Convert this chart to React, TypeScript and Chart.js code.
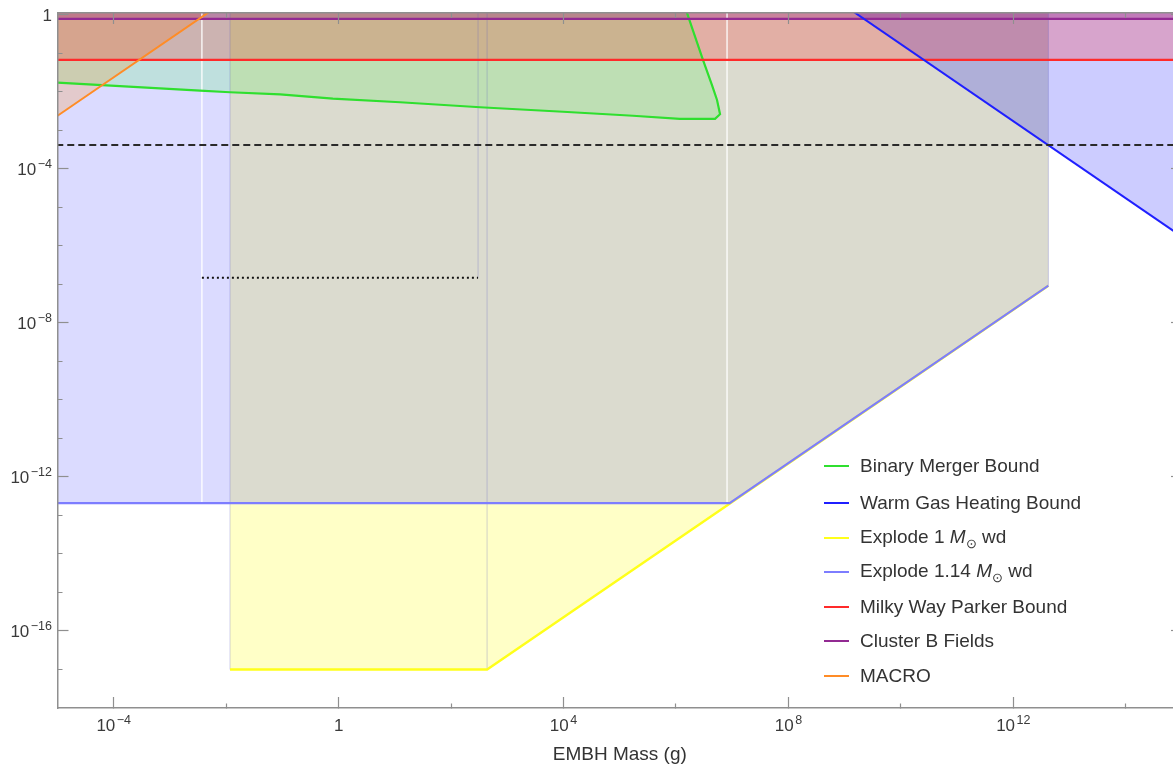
import React, { useEffect, useRef } from 'react';
import { Chart, registerables } from 'chart.js';

Chart.register(...registerables);

// ---------- axes ----------
const massMin = 1e-5;
const massMax = 1e15;
const fracMin = 1e-18;
const fracMax = 1.122;

const xMajorTicks = [1e-4, 1, 1e4, 1e8, 1e12];
const xLabelBase = ['10', '1', '10', '10', '10'];
const xLabelExp = ['−4', '', '4', '8', '12'];
const xMinorTicks = [1e-2, 1e2, 1e6, 1e10, 1e14];

const yMajorTicks = [1e-16, 1e-12, 1e-8, 1e-4, 1];
const yLabelBase = ['10', '10', '10', '10', '1'];
const yLabelExp = ['−16', '−12', '−8', '−4', ''];
const yMinorTicks = [1e-17, 1e-15, 1e-14, 1e-13, 1e-11, 1e-10, 1e-9, 1e-7, 1e-6, 1e-5, 1e-3, 1e-2, 1e-1];

const xTitle = 'EMBH Mass (g)';

// ---------- series ----------
const binaryMass = [1e-5, 3.43e-3, 0.0117, 0.091, 0.79, 12.4, 327, 9.8e3, 1.72e5, 1.17e6, 4.95e6, 6.08e6, 5.37e6, 4.37e6, 3.02e6, 1.57e6, 1.0e6];
const binaryFrac = [0.0175, 0.0108, 0.0098, 0.0086, 0.00668, 0.0054, 0.004, 0.00306, 0.00241, 0.002, 0.002, 0.00264, 0.0062, 0.0151, 0.0678, 1.13, 8];

const warmMass = [1e9, 3.16e15];
const warmFrac = [1.74, 5.5e-7];

const wd1Mass = [0.0117, 437, 4.2e12];
const wd1Frac = [1e-17, 1e-17, 9.3e-8];

const wd114Mass = [1e-6, 9e6, 4.2e12];
const wd114Frac = [2.1e-13, 2.1e-13, 9.3e-8];

const spanMass = [1e-6, 1e16];
const parkerFrac = [0.068, 0.068];
const clusterFrac = [0.79, 0.79];
const dashedFrac = [4.2e-4, 4.2e-4];

const macroMass = [1e-6, 0.01];
const macroFrac = [2.4e-4, 2.4];

const dottedMass = [3.7e-3, 302];
const dottedFrac = [1.5e-7, 1.5e-7];

const whiteSeamMass = [3.7e-3, 8.1e6];
const whiteSeamFrom = [2.1e-13, 2.1e-13];
const edgeSeamMass = [0.0117, 302, 437, 4.2e12];
const edgeSeamFrom = [1e-17, 1.5e-7, 1e-17, 9.3e-8];

const ceiling = 10;

const legendLabels = [
  'Binary Merger Bound',
  'Warm Gas Heating Bound',
  'Explode 1 M⊙ wd',
  'Explode 1.14 M⊙ wd',
  'Milky Way Parker Bound',
  'Cluster B Fields',
  'MACRO',
];

// ---------- styles ----------
const GREEN = '#2fdf2f';
const BLUE = '#1f1fff';
const YELLOW = '#ffff1a';
const LAV = '#7d7dff';
const RED = '#ff2a2a';
const PURPLE = '#922a92';
const ORANGE = '#ff8c26';
const legendColors = [GREEN, BLUE, YELLOW, LAV, RED, PURPLE, ORANGE];

const FONT = '"Liberation Sans", Arial, Helvetica, sans-serif';
const FRAME = '#8f8f8f';
const LABEL_COLOR = '#3a3a3a';

const pts = (xs: number[], ys: number[]) => xs.map((x, i) => ({ x, y: ys[i] }));

const lineDs = (data: any[], color: string, width: number, order: number, extra: any = {}) => ({
  data,
  borderColor: color,
  borderWidth: width,
  pointRadius: 0,
  pointHoverRadius: 0,
  fill: false,
  tension: 0,
  order,
  ...extra,
});

const areaDs = (data: any[], color: string, order: number) => ({
  data,
  borderWidth: 0,
  borderColor: 'rgba(0,0,0,0)',
  backgroundColor: color,
  pointRadius: 0,
  pointHoverRadius: 0,
  fill: 'shape',
  tension: 0,
  order,
});

function makeAxis(kind: 'x' | 'y', position: string, size: number, withTitle: boolean) {
  const majors = kind === 'x' ? xMajorTicks : yMajorTicks;
  const minors = kind === 'x' ? xMinorTicks : yMinorTicks;
  const innerFirst = position === 'left' || position === 'top';
  return {
    type: 'logarithmic',
    position,
    axis: kind,
    min: kind === 'x' ? massMin : fracMin,
    max: kind === 'x' ? massMax : fracMax,
    bounds: 'data',
    afterBuildTicks: (scale: any) => {
      const t = [
        ...majors.map((v) => ({ value: v, major: true })),
        ...minors.map((v) => ({ value: v, major: false })),
      ];
      t.sort((a, b) => a.value - b.value);
      scale.ticks = t;
    },
    afterFit: (scale: any) => {
      if (kind === 'x') scale.height = size;
      else scale.width = size;
      scale.paddingLeft = 0;
      scale.paddingRight = 0;
      scale.paddingTop = 0;
      scale.paddingBottom = 0;
    },
    grid: {
      display: true,
      drawOnChartArea: false,
      drawTicks: true,
      tickLength: -11,
      tickColor: FRAME,
      tickWidth: 1.2,
      z: 1,
      tickBorderDash: (ctx: any) =>
        ctx.tick && ctx.tick.major ? [] : innerFirst ? [0, 6, 5, 100] : [5, 100],
    },
    border: { display: true, color: FRAME, width: 1.5, z: 1 },
    ticks: { display: false, autoSkip: false, maxRotation: 0, minRotation: 0 },
    title: withTitle
      ? {
          display: true,
          text: xTitle,
          color: '#333',
          font: { family: FONT, size: 19 },
          padding: { top: 0, bottom: 0 },
        }
      : { display: false },
  };
}

// Draws the major tick labels of the x and y scales with real superscripts,
// positioned through the scales' own value->pixel mapping.
const powerLabels = {
  id: 'powerLabels',
  afterDraw(chart: any) {
    const ctx = chart.ctx;
    const xs = chart.scales.x;
    const ys = chart.scales.y;
    ctx.save();
    ctx.fillStyle = LABEL_COLOR;
    ctx.textAlign = 'left';
    ctx.textBaseline = 'alphabetic';
    const put = (base: string, exp: string, anchor: number, baseline: number, align: 'center' | 'right') => {
      ctx.font = `17px ${FONT}`;
      const wb = ctx.measureText(base).width;
      ctx.font = `12.5px ${FONT}`;
      const we = exp ? ctx.measureText(exp).width + 1.5 : 0;
      const total = wb + we;
      const x0 = align === 'center' ? anchor - total / 2 : anchor - total;
      ctx.font = `17px ${FONT}`;
      ctx.fillText(base, x0, baseline);
      if (exp) {
        ctx.font = `12.5px ${FONT}`;
        ctx.fillText(exp, x0 + wb + 1.5, baseline - 7.5);
      }
    };
    xMajorTicks.forEach((v, i) => {
      put(xLabelBase[i], xLabelExp[i], xs.getPixelForValue(v), xs.top + 23, 'center');
    });
    yMajorTicks.forEach((v, i) => {
      put(yLabelBase[i], yLabelExp[i], ys.right - 5.5, ys.getPixelForValue(v) + 6.5, 'right');
    });
    ctx.restore();
  },
};

export default function App() {
  const ref = useRef<HTMLCanvasElement | null>(null);

  useEffect(() => {
    if (!ref.current) return;

    const greenPoly = [{ x: binaryMass[0], y: ceiling }, ...pts(binaryMass, binaryFrac), { x: Math.max(...binaryMass), y: ceiling }];
    const wd1Poly = [{ x: wd1Mass[0], y: ceiling }, ...pts(wd1Mass, wd1Frac), { x: wd1Mass[wd1Mass.length - 1], y: ceiling }];
    const wd114Poly = [{ x: wd114Mass[0], y: ceiling }, ...pts(wd114Mass, wd114Frac), { x: wd114Mass[wd114Mass.length - 1], y: ceiling }];
    const warmPoly = [{ x: warmMass[0], y: ceiling }, ...pts(warmMass, warmFrac), { x: warmMass[1], y: ceiling }];
    const parkerPoly = [{ x: spanMass[0], y: ceiling }, ...pts(spanMass, parkerFrac), { x: spanMass[1], y: ceiling }];
    const clusterPoly = [{ x: spanMass[0], y: ceiling }, ...pts(spanMass, clusterFrac), { x: spanMass[1], y: ceiling }];
    const macroPoly = [{ x: macroMass[0], y: ceiling }, ...pts(macroMass, macroFrac), { x: macroMass[1], y: ceiling }];

    const whiteSeams = whiteSeamMass.map((m, i) =>
      lineDs([{ x: m, y: whiteSeamFrom[i] }, { x: m, y: ceiling }], 'rgba(255,255,255,0.85)', 1.5, 12)
    );
    const edgeSeams = edgeSeamMass.map((m, i) =>
      lineDs([{ x: m, y: edgeSeamFrom[i] }, { x: m, y: ceiling }], 'rgba(90,90,190,0.28)', 1, 13)
    );

    const datasets: any[] = [
      areaDs(wd1Poly, 'rgba(255,255,0,0.22)', 30),
      areaDs(wd114Poly, 'rgba(0,0,255,0.14)', 29),
      areaDs(greenPoly, 'rgba(0,255,0,0.13)', 28),
      areaDs(macroPoly, 'rgba(255,128,0,0.2)', 27),
      areaDs(warmPoly, 'rgba(0,0,255,0.2)', 26),
      areaDs(parkerPoly, 'rgba(255,0,0,0.2)', 25),
      areaDs(clusterPoly, 'rgba(128,0,128,0.25)', 24),
      ...edgeSeams,
      ...whiteSeams,
      lineDs(pts(dottedMass, dottedFrac), '#111', 2, 11, { borderDash: [2, 3] }),
      lineDs(pts(wd1Mass, wd1Frac), YELLOW, 2.4, 10),
      lineDs(pts(wd114Mass, wd114Frac), LAV, 2.2, 9),
      lineDs(pts(binaryMass, binaryFrac), GREEN, 2.2, 7),
      lineDs(pts(spanMass, parkerFrac), RED, 2.4, 6),
      lineDs(pts(spanMass, clusterFrac), PURPLE, 2.2, 5),
      lineDs(pts(macroMass, macroFrac), ORANGE, 2, 4),
      lineDs(pts(warmMass, warmFrac), BLUE, 2, 3),
      lineDs(pts(spanMass, dashedFrac), '#2a2a2a', 2, 2, { borderDash: [7, 4] }),
    ];

    const chart = new Chart(ref.current, {
      type: 'line',
      data: { datasets },
      options: {
        animation: false,
        responsive: false,
        maintainAspectRatio: false,
        devicePixelRatio: 1,
        events: [],
        layout: { padding: { top: 13, right: 8, left: 0, bottom: 0 } },
        plugins: {
          legend: { display: false },
          tooltip: { enabled: false },
          title: { display: false },
        },
        scales: {
          x: makeAxis('x', 'bottom', 58, true),
          x2: makeAxis('x', 'top', 0, false),
          y: makeAxis('y', 'left', 57.5, false),
          y2: makeAxis('y', 'right', 0, false),
        } as any,
      } as any,
      plugins: [powerLabels as any],
    });

    return () => chart.destroy();
  }, []);

  const renderLabel = (label: string) => {
    const parts = label.split('M⊙');
    if (parts.length < 2) return label;
    return (
      <>
        {parts[0]}
        <i>M</i>
        <sub style={{ fontSize: 13, verticalAlign: -5, fontStyle: 'normal' }}>⊙</sub>
        {parts[1]}
      </>
    );
  };

  return (
    <div
      style={{
        position: 'fixed',
        left: 0,
        top: 0,
        width: 1173,
        height: 766,
        overflow: 'hidden',
        background: '#fff',
      }}
    >
      <canvas ref={ref} width={1190} height={766} style={{ display: 'block', width: 1190, height: 766 }} />
      <div style={{ position: 'absolute', left: 824, top: 448, fontFamily: FONT, fontSize: 19, color: '#333' }}>
        {legendLabels.map((label, i) => (
          <div
            key={label}
            style={{
              position: 'absolute',
              left: 0,
              top: i === 0 ? 0 : Math.round(37 + (i - 1) * 34.5),
              height: 36,
              display: 'flex',
              alignItems: 'center',
              whiteSpace: 'nowrap',
            }}
          >
            <span style={{ display: 'inline-block', width: 25, height: 2, background: legendColors[i], marginRight: 11 }} />
            <span>{renderLabel(label)}</span>
          </div>
        ))}
      </div>
    </div>
  );
}
